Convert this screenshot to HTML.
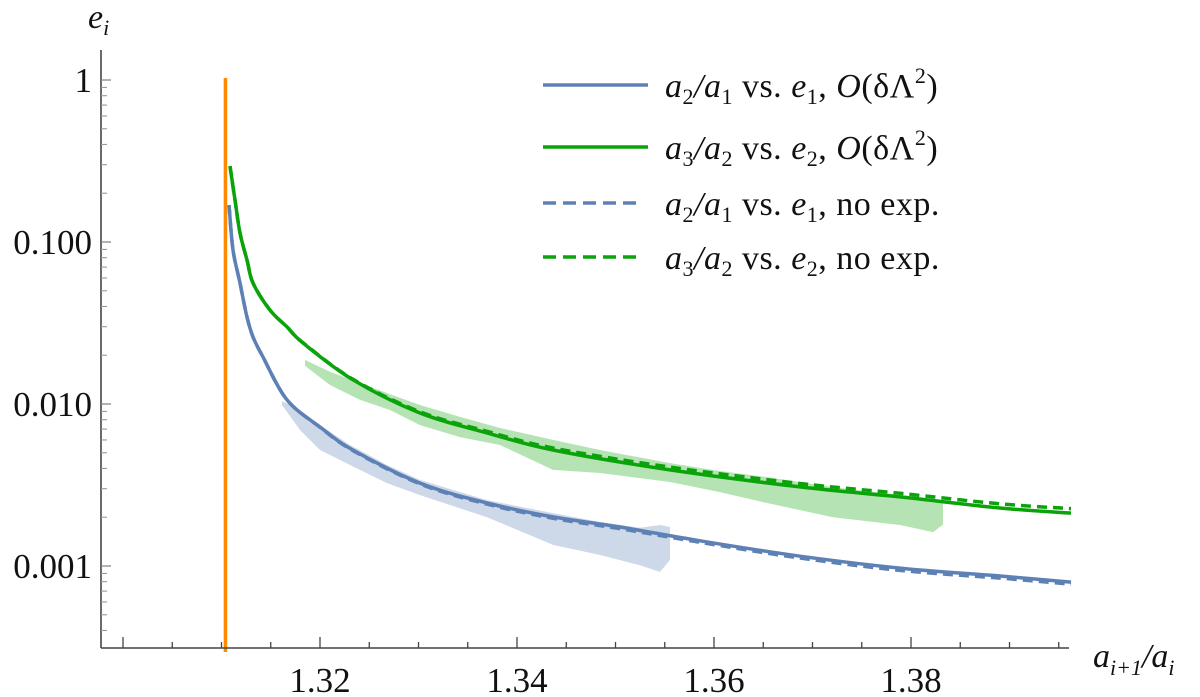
<!DOCTYPE html>
<html><head><meta charset="utf-8"><style>
html,body{margin:0;padding:0;background:#fff}
svg{display:block}
text{font-family:"Liberation Serif",serif;fill:#111}
</style></head><body>
<svg id="chart" width="1200" height="697" viewBox="0 0 1200 697">
<g id="bands"></g>
<g id="lines"></g>
<g id="axes"></g>
<g id="legend"></g>
</svg>
<script>
// ---- data ----
const xTickMajor = [1.30, 1.32, 1.34, 1.36, 1.38];
const xTickLabels = ["", "1.32", "1.34", "1.36", "1.38"];
const yTickMajor = [1, 0.1, 0.01, 0.001];
const yTickLabels = ["1", "0.100", "0.010", "0.001"];
const orangeX = 1.3104;
const orangeTop = 1;

const blueX = [1.31076,1.31117,1.31188,1.31259,1.3132,1.31421,1.31665,1.32,1.32335,1.33015,1.33695,1.34365,1.35046,1.35858,1.36873,1.37888,1.38904,1.39624];
const blueSolid = [0.169,0.0893,0.0558,0.0344,0.0259,0.0195,0.0106,0.00721,0.0052,0.00325,0.00245,0.00201,0.00174,0.00143,0.00115,0.00097,0.000867,0.000796];
const blueDashed = [0.169,0.0893,0.0558,0.0344,0.0259,0.0195,0.0106,0.00718,0.00515,0.00321,0.00241,0.00197,0.0017,0.0014,0.00112,0.00094,0.000842,0.000772];

const greenX = [1.31086,1.31137,1.31188,1.31259,1.3132,1.31492,1.31665,1.31827,1.32335,1.33015,1.33695,1.34365,1.35553,1.36873,1.37888,1.38904,1.39624];
const greenSolid = [0.294,0.1816,0.1137,0.0774,0.0558,0.038,0.0299,0.0238,0.0141,0.0088,0.00663,0.0052,0.00392,0.00308,0.00267,0.00228,0.00212];
const greenDashed = [0.294,0.1816,0.1137,0.0774,0.0558,0.038,0.0299,0.0239,0.0142,0.00895,0.00678,0.00535,0.00408,0.00323,0.00281,0.00242,0.00226];

const gBandX = [1.31848,1.32102,1.32406,1.32711,1.33015,1.33421,1.33827,1.34365,1.34843,1.35553,1.36061,1.36538,1.37208,1.37888,1.38223,1.38325];
const gBandUp = [0.0187,0.0158,0.0135,0.0115,0.00986,0.00832,0.00711,0.0060,0.0052,0.00432,0.00386,0.00354,0.00307,0.00274,0.00259,0.00252];
const gBandLo = [0.0172,0.0131,0.0106,0.00918,0.00741,0.00625,0.00558,0.00392,0.00375,0.0033,0.00286,0.00245,0.0020,0.00179,0.00162,0.0018];

const bBandX = [1.31614,1.31797,1.32,1.32305,1.3268,1.33015,1.33695,1.34365,1.34843,1.35249,1.35452,1.35553];
const bBandUp = [0.01044,0.00918,0.00741,0.00558,0.0042,0.0034,0.00255,0.00212,0.00187,0.00172,0.00179,0.00174];
const bBandLo = [0.00986,0.00691,0.0052,0.0042,0.00325,0.00274,0.0020,0.00135,0.00117,0.00101,0.00092,0.00109];

// ---- axes functions ----
const X0 = 123, XS = 9850;
function sx(v){ return X0 + (v - 1.30) * XS; }
function sy(e){ return 80 - 162 * Math.log10(e); }
const NS = "http://www.w3.org/2000/svg";
function mk(tag, attrs, parent){
  const el = document.createElementNS(NS, tag);
  for (const k in attrs) el.setAttribute(k, attrs[k]);
  parent.appendChild(el);
  return el;
}
const C_BLUE = "#5e81b5", C_GREEN = "#0aa30a";

// bands
const bands = document.getElementById('bands');
function bandPath(xs, up, lo){
  let d = "";
  xs.forEach((x,i)=>{ d += (i?"L":"M") + sx(x).toFixed(1) + "," + sy(up[i]).toFixed(1); });
  for (let i = xs.length-1; i >= 0; i--) d += "L" + sx(xs[i]).toFixed(1) + "," + sy(lo[i]).toFixed(1);
  return d + "Z";
}
const gb = mk('path', {d: bandPath(gBandX, gBandUp, gBandLo), fill:"#b5e3b3"}, bands);


const bb = mk('path', {d: bandPath(bBandX, bBandUp, bBandLo), fill:"#cdd8e9"}, bands);



// lines (Catmull-Rom smoothing)
const lines = document.getElementById('lines');
function linePath(xs, ys){
  const p = xs.map((x,i)=>[sx(x), sy(ys[i])]);
  let d = "M" + p[0][0].toFixed(1) + "," + p[0][1].toFixed(1);
  for (let i = 0; i < p.length-1; i++) {
    const p0 = p[Math.max(0,i-1)], p1 = p[i], p2 = p[i+1], p3 = p[Math.min(p.length-1,i+2)];
    const c1x = p1[0] + (p2[0]-p0[0])/6, c1y = p1[1] + (p2[1]-p0[1])/6;
    const c2x = p2[0] - (p3[0]-p1[0])/6, c2y = p2[1] - (p3[1]-p1[1])/6;
    d += "C" + c1x.toFixed(1)+","+c1y.toFixed(1)+" "+c2x.toFixed(1)+","+c2y.toFixed(1)+" "+p2[0].toFixed(1)+","+p2[1].toFixed(1);
  }
  return d;
}
const orange = mk('line', {x1: sx(orangeX), x2: sx(orangeX), y1: sy(orangeTop)-2, y2: 652, stroke:"#ff8a00", "stroke-width":3.5}, lines);


const bd = mk('path', {d: linePath(blueX, blueDashed), fill:"none", stroke:C_BLUE, "stroke-width":3.5, "stroke-dasharray":"10,6"}, lines);


const bs = mk('path', {d: linePath(blueX, blueSolid), fill:"none", stroke:C_BLUE, "stroke-width":3.5}, lines);


const gd = mk('path', {d: linePath(greenX, greenDashed), fill:"none", stroke:C_GREEN, "stroke-width":3.5, "stroke-dasharray":"10,6"}, lines);


const gs = mk('path', {d: linePath(greenX, greenSolid), fill:"none", stroke:C_GREEN, "stroke-width":3.5}, lines);



// axes
const axes = document.getElementById('axes');
const ax = mk('line', {x1:101, x2:1069, y1:648, y2:648, stroke:"#444", "stroke-width":1.6}, axes);


const ay = mk('line', {x1:101, x2:101, y1:50, y2:648, stroke:"#444", "stroke-width":1.6}, axes);


for (let v = 1.300; v < 1.3965; v += 0.005) {
  const major = Math.abs(Math.round(v*100) - v*100) < 1e-6 && Math.round(v*100) % 2 === 0;
  const t = mk('line', {x1:sx(v), x2:sx(v), y1:648, y2: major ? 637 : 642, stroke:"#444", "stroke-width":1.3}, axes);
  
  
}
xTickMajor.forEach((v,i)=>{
  if (!xTickLabels[i]) return;
  const t = mk('text', {x:sx(v), y:692, "font-size":35, "text-anchor":"middle"}, axes);
  t.textContent = xTickLabels[i];
  
  
});
yTickMajor.forEach((e,i)=>{
  const t = mk('line', {x1:101, x2:111, y1:sy(e), y2:sy(e), stroke:"#888", "stroke-width":1.3}, axes);
  
  
  const l = mk('text', {x:92, y:sy(e)+12, "font-size":35, "text-anchor":"end"}, axes);
  l.textContent = yTickLabels[i];
  
  
});
[1, 0.1, 0.01, 0.001, 0.0001].forEach(dec=>{
  for (let m = 2; m <= 9; m++) {
    const e = dec * m / 10;
    const y = sy(e);
    if (y < 50 || y > 646) continue;
    const t = mk('line', {x1:101, x2:107, y1:y, y2:y, stroke:"#999", "stroke-width":1.1}, axes);
    
    
  }
});
</script>
<div style="position:absolute;left:0;top:0;width:1200px;height:697px;pointer-events:none">
<svg width="1200" height="697" style="position:absolute;left:0;top:0">
<text x="88" y="28" font-size="34" font-style="italic" style="font-family:'Liberation Serif',serif">e<tspan font-size="22" dy="7">i</tspan></text>
<text x="1093" y="667" font-size="34" font-style="italic" style="font-family:'Liberation Serif',serif">a<tspan font-size="22" dy="8">i+1</tspan><tspan dy="-8">/a</tspan><tspan font-size="22" dy="8">i</tspan></text>
<g>
<line x1="543" x2="648" y1="85" y2="85" stroke="#5e81b5" stroke-width="3.5"/>
<text x="665" y="97" font-size="34" letter-spacing="0.5" style="font-family:'Liberation Serif',serif"><tspan font-style="italic">a</tspan><tspan font-size="22" dy="7">2</tspan><tspan dy="-7" font-style="italic">/a</tspan><tspan font-size="22" dy="7">1</tspan><tspan dy="-7"> vs. </tspan><tspan font-style="italic">e</tspan><tspan font-size="22" dy="7">1</tspan><tspan dy="-7">, </tspan><tspan font-style="italic">O</tspan><tspan>(δΛ</tspan><tspan font-size="22" dy="-14">2</tspan><tspan dy="14">)</tspan></text>
</g>
<g>
<line x1="543" x2="648" y1="147" y2="147" stroke="#0aa30a" stroke-width="3.5"/>
<text x="665" y="159" font-size="34" letter-spacing="0.5" style="font-family:'Liberation Serif',serif"><tspan font-style="italic">a</tspan><tspan font-size="22" dy="7">3</tspan><tspan dy="-7" font-style="italic">/a</tspan><tspan font-size="22" dy="7">2</tspan><tspan dy="-7"> vs. </tspan><tspan font-style="italic">e</tspan><tspan font-size="22" dy="7">2</tspan><tspan dy="-7">, </tspan><tspan font-style="italic">O</tspan><tspan>(δΛ</tspan><tspan font-size="22" dy="-14">2</tspan><tspan dy="14">)</tspan></text>
</g>
<g>
<line x1="543" x2="643" y1="203" y2="203" stroke="#5e81b5" stroke-width="3.5" stroke-dasharray="13,7"/>
<text x="665" y="215" font-size="34" letter-spacing="0.5" style="font-family:'Liberation Serif',serif"><tspan font-style="italic">a</tspan><tspan font-size="22" dy="7">2</tspan><tspan dy="-7" font-style="italic">/a</tspan><tspan font-size="22" dy="7">1</tspan><tspan dy="-7"> vs. </tspan><tspan font-style="italic">e</tspan><tspan font-size="22" dy="7">1</tspan><tspan dy="-7">, no exp.</tspan></text>
</g>
<g>
<line x1="543" x2="643" y1="257" y2="257" stroke="#0aa30a" stroke-width="3.5" stroke-dasharray="13,7"/>
<text x="665" y="269" font-size="34" letter-spacing="0.5" style="font-family:'Liberation Serif',serif"><tspan font-style="italic">a</tspan><tspan font-size="22" dy="7">3</tspan><tspan dy="-7" font-style="italic">/a</tspan><tspan font-size="22" dy="7">2</tspan><tspan dy="-7"> vs. </tspan><tspan font-style="italic">e</tspan><tspan font-size="22" dy="7">2</tspan><tspan dy="-7">, no exp.</tspan></text>
</g>
</svg>
</div>
</body></html>
